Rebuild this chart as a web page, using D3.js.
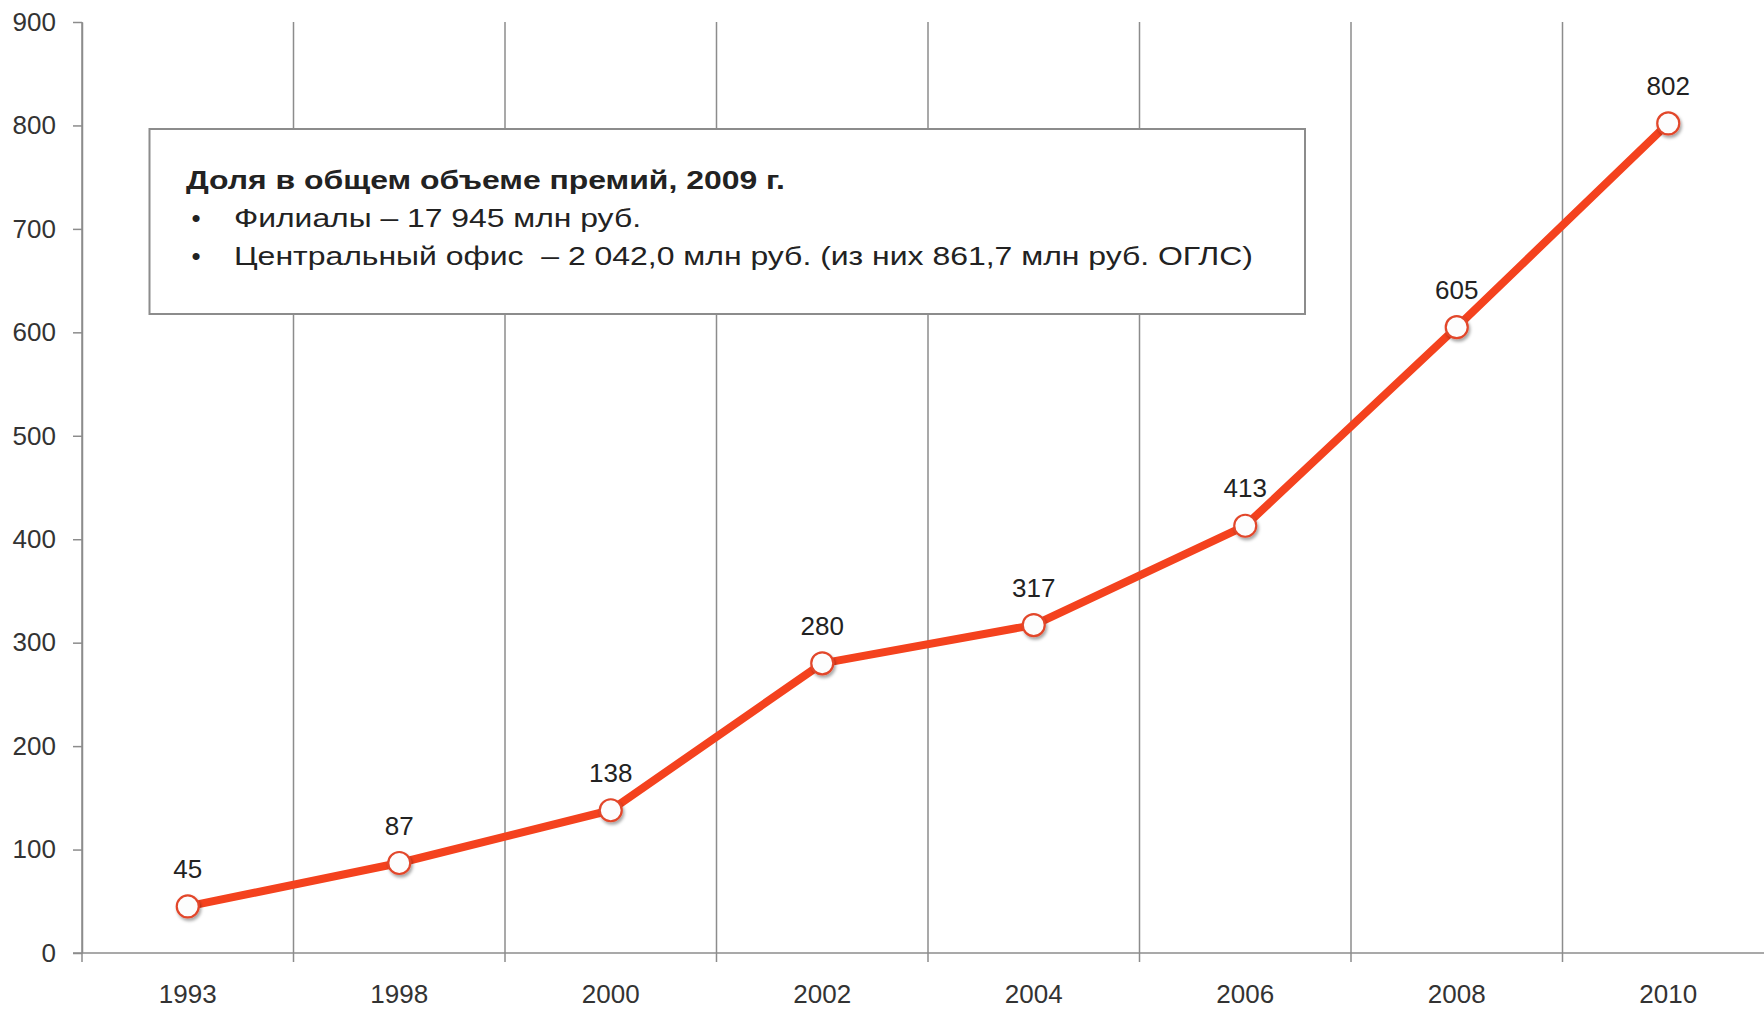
<!DOCTYPE html>
<html>
<head>
<meta charset="utf-8">
<script src="https://cdn.jsdelivr.net/npm/d3@7"></script>
<style>
  html, body { margin: 0; padding: 0; background: #fff; }
  svg { display: block; font-family: "Liberation Sans", Arial, sans-serif; }
</style>
</head>
<body>
<svg width="1764" height="1009"></svg>
<script>
// данные графика
const years = ['1993', '1998', '2000', '2002', '2004', '2006', '2008', '2010'];
const values = [45, 87, 138, 280, 317, 413, 605, 802];
const yTicks = [0, 100, 200, 300, 400, 500, 600, 700, 800, 900];

// текст в рамке
const boxTitle = 'Доля в общем объеме премий, 2009 г.';
const boxItems = [
    'Филиалы – 17 945 млн руб.',
    'Центральный офис  – 2 042,0 млн руб. (из них 861,7 млн руб. ОГЛС)'
];

const svg = d3.select('svg');
const margens = { left: 82, top: 22, bottom: 56 };
const height = +svg.attr('height');
const bandW = 211.5;
const fonte = '"Liberation Sans", Arial, sans-serif';

const x = d3.scaleBand()
    .domain(years)
    .range([margens.left, margens.left + bandW * years.length])
    .padding(0);

const y = d3.scaleLinear()
    .domain([0, 900])
    .range([height - margens.bottom, margens.top]);

const axisGray = '#8c8c8c';
const lineColor = '#f4421e';

// sombra dos marcadores
const defs = svg.append('defs');
const f = defs.append('filter').attr('id', 'sombra')
    .attr('x', '-50%').attr('y', '-50%').attr('width', '200%').attr('height', '200%');
f.append('feDropShadow')
    .attr('dx', 1.5).attr('dy', 2.5).attr('stdDeviation', 1.6)
    .attr('flood-color', '#000').attr('flood-opacity', 0.35);

// --- grade vertical nos limites das categorias ---
const limites = years.map(d => x(d)).concat([x.range()[1]]);
svg.append('g')
    .selectAll('line')
    .data(limites)
    .join('line')
        .attr('x1', d => d).attr('x2', d => d)
        .attr('y1', y(900))
        .attr('y2', y(0) + 9)
        .attr('stroke', axisGray)
        .attr('stroke-width', 1.5);

// --- eixo Y ---
const eixoY = svg.append('g')
    .attr('transform', `translate(${margens.left},0)`)
    .call(d3.axisLeft(y).tickValues(yTicks).tickSize(9).tickSizeOuter(0).tickPadding(17));
eixoY.select('.domain').attr('stroke', axisGray).attr('stroke-width', 1.5);
eixoY.selectAll('.tick line').attr('stroke', axisGray).attr('stroke-width', 1.5);
eixoY.selectAll('text')
    .attr('fill', '#333')
    .style('font-size', '26px')
    .style('font-family', fonte);

// --- eixo X ---
const eixoX = svg.append('g')
    .attr('transform', `translate(0,${y(0)})`)
    .call(d3.axisBottom(x).tickSize(0).tickSizeOuter(0).tickPadding(31.5));
eixoX.select('.domain')
    .attr('d', `M${margens.left - 9},0H1764`)
    .attr('stroke', axisGray).attr('stroke-width', 1.5);
eixoX.selectAll('text')
    .attr('fill', '#333')
    .style('font-size', '26px')
    .style('font-family', fonte);

// --- caixa de texto ---
const caixa = svg.append('g');
caixa.append('rect')
    .attr('x', 149.5).attr('y', 129)
    .attr('width', 1155.5).attr('height', 185)
    .attr('fill', '#fff')
    .attr('stroke', axisGray)
    .attr('stroke-width', 2);

caixa.append('text')
    .attr('x', 186).attr('y', 188.5)
    .attr('fill', '#222')
    .style('font-size', '26px')
    .style('font-weight', 'bold')
    .attr('textLength', 599)
    .attr('lengthAdjust', 'spacingAndGlyphs')
    .text(boxTitle);

const itemLen = [407, 1019];
boxItems.forEach((t, i) => {
    const by = 226.5 + i * 38;
    caixa.append('text')
        .attr('x', 196).attr('y', by)
        .attr('text-anchor', 'middle')
        .attr('fill', '#222')
        .style('font-size', '26px')
        .text('•');
    caixa.append('text')
        .attr('x', 234).attr('y', by)
        .attr('fill', '#222')
        .style('font-size', '26px')
        .style('white-space', 'pre')
        .attr('textLength', itemLen[i])
        .attr('lengthAdjust', 'spacingAndGlyphs')
        .text(t);
});

// --- linha ---
const pontos = years.map((d, i) => ({ ano: d, valor: values[i] }));
const cx = d => x(d.ano) + x.bandwidth() / 2;

svg.append('path')
    .datum(pontos)
    .attr('fill', 'none')
    .attr('stroke', lineColor)
    .attr('stroke-width', 8)
    .attr('stroke-linejoin', 'round')
    .attr('d', d3.line().x(cx).y(d => y(d.valor)));

// --- marcadores ---
svg.append('g')
    .selectAll('circle')
    .data(pontos)
    .join('circle')
        .attr('cx', cx)
        .attr('cy', d => y(d.valor))
        .attr('r', 11)
        .attr('fill', '#fdfdfd')
        .attr('stroke', '#e2472c')
        .attr('stroke-width', 2.2)
        .attr('filter', 'url(#sombra)');

// --- rótulos de valores ---
svg.append('g')
    .selectAll('text')
    .data(pontos)
    .join('text')
        .attr('x', cx)
        .attr('y', d => y(d.valor) - 28.5)
        .attr('text-anchor', 'middle')
        .attr('fill', '#222')
        .style('font-size', '26px')
        .text(d => d.valor);
</script>
</body>
</html>
